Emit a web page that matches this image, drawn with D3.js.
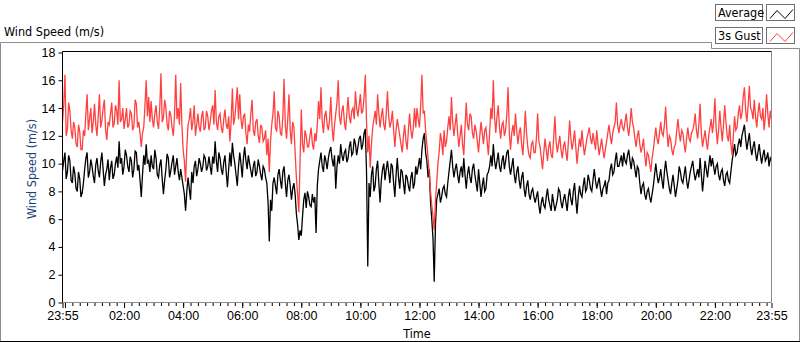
<!DOCTYPE html>
<html>
<head>
<meta charset="utf-8">
<title>wind speed</title>
<style>
  body { margin: 0; background: #fff; }
  svg { display: block; font-family: "DejaVu Sans Condensed", Tahoma, "DejaVu Sans", sans-serif; }
</style>
<script src="https://d3js.org/d3.v7.min.js"></script>
</head>
<body>
<div id="chart"></div>
<script>

// 2.5 minute samples from 23:55 to 23:55, one row per hour
var average = [
  9.5, 10.2, 10.8, 8.9, 9.4, 10.6, 10.2, 8.8, 8.6, 9.8, 9.3, 8.2, 8.0, 9.4, 8.9, 7.6, 7.9, 8.6, 9.6, 10.4, 10.8, 9.0, 9.4, 10.3,
  9.8, 9.1, 8.6, 9.9, 10.4, 9.5, 9.0, 10.1, 10.8, 9.6, 8.4, 9.2, 9.6, 10.3, 8.8, 9.7, 10.2, 8.9, 9.2, 10.0, 10.5, 9.7, 11.6, 10.0,
  10.4, 9.2, 9.8, 11.0, 10.6, 9.8, 9.4, 10.5, 10.2, 9.0, 9.6, 10.9, 10.8, 9.5, 9.9, 8.8, 7.6, 9.2, 10.6, 9.9, 11.4, 10.0, 10.2, 9.4,
  10.6, 9.8, 9.6, 11.0, 10.4, 9.2, 9.0, 9.9, 10.3, 8.9, 7.8, 8.8, 9.6, 10.7, 10.4, 9.0, 9.5, 10.1, 10.6, 9.2, 9.8, 10.4, 9.4, 8.8,
  9.6, 9.0, 8.4, 7.8, 6.6, 8.0, 9.0, 8.2, 7.4, 9.4, 8.6, 9.8, 10.2, 9.1, 9.6, 10.4, 10.0, 9.4, 9.8, 10.6, 10.4, 9.5, 9.8, 10.5,
  9.8, 9.2, 10.5, 10.0, 11.6, 10.2, 9.4, 10.8, 10.4, 9.6, 9.2, 10.1, 10.6, 9.4, 8.3, 9.6, 10.8, 9.8, 11.5, 10.6, 10.0, 9.2, 8.4, 9.8,
  10.8, 10.0, 9.0, 10.4, 11.2, 10.2, 9.6, 10.6, 10.0, 9.5, 9.0, 9.8, 10.2, 9.1, 9.4, 10.3, 9.8, 9.2, 8.8, 9.8, 9.6, 9.0, 8.6, 7.2,
  4.4, 7.4, 6.6, 8.6, 9.0, 8.4, 7.8, 9.2, 9.6, 8.8, 8.2, 9.4, 9.8, 8.6, 7.6, 8.8, 9.2, 8.4, 7.4, 8.2, 8.6, 7.8, 6.4, 5.6,
  4.5, 5.2, 4.8, 6.2, 7.4, 7.9, 6.8, 8.0, 7.6, 7.0, 6.9, 7.8, 7.2, 7.6, 5.0, 8.4, 9.6, 10.2, 10.8, 9.8, 9.4, 10.6, 10.2, 9.6,
  10.4, 10.9, 11.2, 10.3, 9.8, 10.6, 8.2, 9.8, 10.6, 10.0, 11.4, 10.6, 10.2, 10.8, 11.0, 10.1, 10.4, 11.2, 11.6, 10.6, 10.8, 11.8, 11.4, 10.6,
  11.2, 11.8, 12.0, 11.0, 11.4, 12.2, 12.5, 9.4, 2.6, 8.6, 7.6, 9.2, 9.8, 8.0, 8.4, 9.6, 10.2, 8.6, 7.2, 8.8, 9.6, 10.0, 8.8, 9.6,
  10.2, 9.4, 8.6, 10.0, 9.8, 8.6, 7.6, 9.2, 10.4, 9.0, 8.2, 9.6, 9.4, 8.6, 7.8, 9.2, 9.0, 8.4, 8.0, 9.0, 9.4, 8.2, 8.6, 9.8,
  9.2, 9.8, 10.4, 9.6, 11.0, 11.8, 12.2, 10.8, 10.2, 9.0, 9.6, 7.2, 6.0, 4.6, 1.5, 5.6, 7.4, 7.8, 8.2, 7.2, 7.6, 8.2, 8.4, 7.8,
  7.6, 8.6, 9.4, 10.2, 11.0, 9.8, 9.0, 9.6, 10.0, 9.2, 8.6, 9.4, 9.8, 9.0, 10.4, 9.2, 8.2, 9.2, 9.8, 9.0, 8.6, 9.6, 10.0, 9.2,
  8.6, 8.0, 9.6, 8.6, 7.6, 8.4, 9.0, 8.0, 8.2, 9.2, 9.4, 9.8, 10.6, 9.8, 11.4, 10.2, 9.6, 10.2, 10.8, 9.8, 9.4, 10.2, 10.6, 9.6,
  10.2, 10.8, 11.0, 9.8, 9.2, 9.8, 10.4, 9.2, 8.6, 9.4, 9.8, 8.8, 8.2, 9.0, 9.4, 8.2, 7.6, 8.4, 8.8, 7.8, 7.4, 8.0, 8.2, 7.6,
  7.2, 7.6, 8.0, 7.0, 6.4, 7.2, 7.6, 7.0, 6.8, 7.6, 8.2, 7.4, 7.0, 6.6, 7.8, 7.2, 6.6, 7.0, 7.4, 8.2, 8.0, 7.2, 6.8, 7.4,
  7.8, 7.2, 6.6, 7.6, 8.2, 7.4, 7.0, 8.0, 8.6, 7.4, 6.4, 7.6, 8.4, 7.8, 7.6, 8.4, 9.0, 8.0, 8.2, 9.2, 8.8, 8.2, 8.0, 8.8,
  9.6, 8.8, 8.2, 8.6, 9.0, 8.2, 7.6, 8.2, 8.4, 8.8, 7.8, 8.6, 8.8, 9.6, 10.0, 9.2, 9.4, 10.2, 10.8, 9.8, 9.8, 10.2, 10.6, 9.8,
  10.8, 10.2, 10.0, 10.6, 11.0, 10.2, 9.6, 10.4, 10.2, 9.6, 9.0, 9.8, 9.6, 8.6, 7.8, 8.4, 8.6, 7.8, 7.4, 8.0, 8.2, 7.6, 7.2, 7.8,
  8.4, 9.2, 10.0, 9.2, 8.6, 9.0, 9.6, 8.8, 8.2, 9.4, 10.2, 9.4, 8.8, 8.2, 7.8, 8.6, 9.2, 8.4, 7.6, 8.2, 8.8, 9.8, 9.4, 8.8,
  8.6, 9.2, 9.8, 8.8, 8.2, 8.8, 9.4, 9.8, 10.2, 9.4, 8.8, 9.2, 9.6, 9.0, 10.4, 9.2, 8.0, 9.0, 10.2, 9.6, 9.0, 9.8, 10.6, 9.8,
  10.4, 9.8, 9.2, 9.8, 10.0, 9.2, 8.8, 9.4, 9.6, 8.8, 8.4, 9.2, 9.4, 8.8, 8.6, 9.4, 10.2, 10.8, 11.4, 10.6, 10.8, 11.4, 11.8, 11.2,
  12.0, 12.4, 12.8, 11.8, 11.0, 11.6, 12.2, 11.2, 10.6, 11.2, 11.6, 10.8, 10.2, 10.8, 11.4, 10.6, 10.0, 10.6, 11.0, 10.2, 10.4, 10.8, 9.8, 10.4, 10.2
];

var gust = [
  13.0, 14.2, 16.4, 12.0, 12.5, 14.4, 13.8, 12.4, 11.8, 13.0, 12.6, 11.4, 11.2, 12.8, 12.3, 11.0, 11.0, 12.4, 12.0, 13.6, 15.0, 12.4, 13.2, 14.0,
  12.2, 13.0, 14.3, 12.8, 12.0, 13.4, 15.0, 12.6, 13.1, 14.0, 14.6, 12.4, 11.7, 13.0, 12.8, 13.6, 14.4, 12.6, 12.9, 14.2, 13.8, 12.8, 16.0, 13.0,
  13.2, 14.0, 12.5, 13.2, 14.0, 12.6, 12.8, 13.8, 13.6, 12.4, 12.7, 14.6, 14.3, 12.6, 13.0, 12.2, 11.2, 12.2, 12.6, 14.2, 16.0, 13.4, 14.8, 13.0,
  14.5, 13.2, 12.6, 13.6, 14.2, 13.0, 12.5, 14.0, 16.5, 13.0, 13.3, 14.6, 14.0, 12.8, 12.4, 13.8, 13.5, 12.6, 12.0, 13.4, 16.4, 13.2, 14.0, 12.8,
  15.8, 12.8, 11.0, 10.2, 8.7, 11.2, 12.8, 13.2, 14.0, 12.4, 13.0, 14.2, 12.0, 12.8, 13.6, 12.6, 12.3, 13.4, 13.8, 12.4, 12.6, 13.8, 13.4, 12.4,
  13.0, 13.8, 14.2, 12.8, 15.3, 13.0, 12.4, 13.4, 13.6, 12.6, 12.2, 13.2, 13.9, 12.8, 12.5, 13.4, 11.6, 13.0, 15.4, 12.8, 13.3, 14.4, 15.5, 13.2,
  15.0, 13.2, 12.5, 13.4, 13.6, 12.2, 11.4, 12.8, 12.3, 13.6, 14.6, 12.4, 12.0, 13.0, 13.2, 12.0, 11.5, 12.8, 12.6, 11.6, 11.8, 12.4, 10.6, 11.8,
  9.4, 11.6, 12.8, 13.6, 15.2, 12.6, 12.3, 13.8, 13.4, 12.2, 12.0, 13.4, 16.1, 12.8, 11.8, 13.2, 15.0, 12.4, 11.4, 13.0, 12.6, 10.8, 9.0, 7.8,
  6.5, 10.2, 13.9, 11.4, 10.8, 12.4, 12.0, 11.2, 11.2, 12.0, 12.6, 11.4, 11.0, 12.2, 11.6, 12.8, 14.5, 13.2, 15.5, 13.0, 12.2, 13.4, 13.8, 12.8,
  12.4, 13.2, 14.8, 12.6, 11.6, 12.8, 13.6, 14.4, 16.0, 13.4, 12.8, 13.8, 14.2, 13.0, 12.4, 13.6, 14.8, 13.4, 12.9, 13.8, 14.0, 13.2, 15.2, 14.0,
  13.4, 14.2, 15.0, 13.6, 13.8, 14.8, 16.4, 13.0, 10.8, 12.0, 9.7, 11.4, 12.6, 13.2, 13.8, 12.8, 15.0, 13.6, 12.6, 13.4, 14.0, 12.8, 12.4, 13.6,
  15.2, 13.4, 12.6, 13.0, 13.8, 12.4, 11.2, 12.4, 13.2, 12.6, 12.0, 11.4, 10.8, 12.0, 12.8, 11.6, 11.0, 12.4, 13.6, 12.4, 11.8, 12.6, 14.0, 12.6,
  14.0, 13.2, 12.6, 14.2, 16.4, 13.6, 13.8, 12.4, 11.4, 10.4, 9.2, 8.0, 7.0, 6.2, 5.2, 7.4, 8.6, 10.0, 10.8, 12.2, 11.6, 10.6, 12.4, 11.2,
  11.6, 12.6, 13.4, 12.4, 14.8, 13.0, 12.0, 12.8, 13.6, 12.2, 11.2, 12.0, 12.8, 11.4, 10.6, 12.6, 14.4, 12.8, 12.4, 13.6, 13.4, 12.2, 11.8, 12.8,
  12.4, 11.6, 10.8, 12.0, 13.0, 12.2, 11.4, 12.4, 12.6, 11.6, 10.6, 12.2, 14.0, 13.2, 16.0, 13.4, 12.2, 13.4, 14.2, 12.6, 11.8, 12.8, 13.0, 12.0,
  12.4, 13.6, 15.5, 12.2, 11.0, 12.2, 12.8, 12.0, 13.6, 12.4, 11.4, 12.2, 12.6, 11.4, 10.6, 12.0, 13.8, 12.2, 11.2, 10.6, 10.4, 11.4, 11.6, 10.8,
  10.8, 11.8, 13.6, 11.6, 11.2, 10.4, 9.6, 10.8, 11.8, 11.0, 10.2, 11.2, 11.6, 10.6, 10.4, 11.8, 13.4, 11.6, 10.8, 11.4, 12.0, 11.0, 10.4, 11.2,
  11.6, 10.8, 10.2, 11.6, 13.1, 11.8, 11.0, 11.6, 12.4, 11.2, 10.0, 11.0, 11.8, 11.2, 12.4, 11.4, 10.6, 11.2, 11.8, 12.2, 12.6, 11.8, 11.4, 12.2,
  11.6, 11.0, 12.4, 11.4, 10.6, 11.2, 11.8, 11.0, 10.4, 11.0, 11.6, 12.2, 12.8, 12.0, 11.4, 12.2, 12.6, 13.0, 14.4, 12.8, 12.2, 12.8, 13.2, 12.6,
  12.4, 13.0, 13.6, 12.6, 12.0, 12.8, 14.0, 13.0, 12.6, 11.8, 11.2, 12.0, 12.4, 11.4, 10.8, 11.2, 11.8, 10.6, 9.8, 10.8, 10.6, 10.0, 9.4, 10.4,
  11.0, 11.8, 12.6, 11.8, 11.4, 12.2, 13.0, 12.2, 12.0, 12.8, 14.1, 12.4, 11.2, 12.0, 11.8, 11.0, 10.6, 11.2, 11.4, 12.4, 13.2, 12.2, 11.6, 12.4,
  12.2, 11.4, 10.8, 11.8, 12.6, 11.8, 11.6, 12.2, 12.4, 12.8, 13.6, 12.4, 11.8, 12.8, 14.3, 12.2, 11.2, 11.8, 12.4, 11.6, 11.0, 12.0, 12.6, 13.2,
  12.2, 13.0, 14.7, 12.6, 11.4, 12.4, 13.8, 12.6, 11.6, 12.8, 14.2, 13.0, 12.0, 11.6, 12.8, 11.4, 10.6, 12.0, 13.4, 12.4, 12.6, 13.6, 14.2, 13.2,
  13.6, 14.8, 15.5, 13.8, 13.0, 14.2, 15.6, 14.0, 13.8, 13.2, 14.6, 13.4, 12.6, 13.6, 14.4, 13.4, 13.2, 14.0, 12.4, 13.4, 15.0, 13.6, 12.6, 13.8, 13.2
];

var seriesNames = ["Average", "3s Gust"];
var seriesColors = ["#000000", "#ff4040"];
var yTicks = [0, 2, 4, 6, 8, 10, 12, 14, 16, 18];
var xTickLabels = ["23:55", "", "02:00", "04:00", "06:00", "08:00", "10:00",
                   "12:00", "14:00", "16:00", "18:00", "20:00", "22:00", "23:55"];

var W = 800, H = 342;
var plot = {left: 62.5, right: 771.5, top: 51.5, bottom: 302.5};

var t0 = new Date(2021, 0, 1, 23, 55);
var t1 = d3.timeHour.offset(t0, 24);

var x = d3.scaleTime().domain([t0, t1]).range([plot.left, plot.right]);
var y = d3.scaleLinear().domain([0, 18]).range([plot.bottom, 52.5]);

// spread the samples evenly over the 24 hours
function toRows(values) {
  var step = (t1 - t0) / (values.length - 1);
  return values.map(function(v, i) {
    return {date: new Date(+t0 + i * step), value: v};
  });
}

var svg = d3.select("#chart").append("svg")
    .attr("width", W)
    .attr("height", H);

// outer frame
var frame = svg.append("g").attr("fill", "none").attr("stroke-width", 1);
frame.append("path").attr("stroke", "#8c8c8c")
    .attr("d", "M0.5,341 V42.5 H711.5 V48.5 H799.5 V341");
frame.append("path").attr("stroke", "#000")
    .attr("d", "M0,341.5 H800");

// title
svg.append("text")
    .attr("x", 4).attr("y", 36)
    .attr("font-size", 12.5)
    .attr("fill", "#000")
    .text("Wind Speed (m/s)");

// plot area
svg.append("rect")
    .attr("x", plot.left).attr("y", plot.top)
    .attr("width", plot.right - plot.left).attr("height", plot.bottom - plot.top)
    .attr("fill", "#fff");

svg.append("clipPath").attr("id", "clip")
  .append("rect")
    .attr("x", plot.left).attr("y", plot.top)
    .attr("width", plot.right - plot.left).attr("height", plot.bottom - plot.top);

var line = d3.line()
    .x(function(d) { return x(d.date); })
    .y(function(d) { return y(d.value); });

var lines = svg.append("g").attr("clip-path", "url(#clip)");
[average, gust].forEach(function(values, i) {
  lines.append("path")
      .datum(toRows(values))
      .attr("fill", "none")
      .attr("stroke", seriesColors[i])
      .attr("stroke-width", 1.3)
      .attr("stroke-linejoin", "miter")
      .attr("d", line);
});

// plot border: dark top/left, grey bottom/right
svg.append("path").attr("fill", "none").attr("stroke", "#8c8c8c")
    .attr("d", "M" + plot.left + "," + plot.bottom + " H" + plot.right + " V" + plot.top);
svg.append("path").attr("fill", "none").attr("stroke", "#000")
    .attr("d", "M" + plot.left + "," + plot.bottom + " V" + plot.top + " H" + plot.right);

// Y axis
var yAxis = svg.append("g")
    .attr("transform", "translate(" + plot.left + ",0)")
    .call(d3.axisLeft(y).tickValues(yTicks).tickSize(4).tickPadding(3));
yAxis.select(".domain").remove();
yAxis.selectAll("text").attr("font-size", 12.5).attr("fill", "#000").attr("font-family", null);

svg.append("text")
    .attr("transform", "translate(36," + ((plot.top + plot.bottom) / 2 - 8) + ") rotate(-90)")
    .attr("text-anchor", "middle")
    .attr("font-size", 12.5)
    .attr("fill", "#1e3f78")
    .text("Wind Speed (m/s)");

// X axis: major ticks at labels, minor every 15 min
var majorTicks = [t0].concat(d3.timeHour.every(2).range(d3.timeMinute.offset(t0, 1), t1), [t1]);
var minorTicks = d3.timeMinute.every(15).range(t0, t1);

var xMinor = svg.append("g")
    .attr("transform", "translate(0," + (plot.bottom + 0.5) + ")")
    .call(d3.axisBottom(x).tickValues(minorTicks).tickSize(3).tickFormat(""));
xMinor.select(".domain").remove();

var xAxis = svg.append("g")
    .attr("transform", "translate(0," + (plot.bottom + 0.5) + ")")
    .call(d3.axisBottom(x).tickValues(majorTicks).tickSize(5).tickPadding(3)
      .tickFormat(function(d, i) { return xTickLabels[i]; }));
xAxis.select(".domain").remove();
xAxis.selectAll("text").attr("font-size", 12.5).attr("fill", "#000").attr("font-family", null);

svg.append("text")
    .attr("x", 417).attr("y", 338)
    .attr("text-anchor", "middle")
    .attr("font-size", 12.5)
    .attr("fill", "#000")
    .text("Time");

// legend
var legend = svg.append("g");
seriesNames.forEach(function(name, i) {
  var top = 4.5 + i * 23;
  var g = legend.append("g").attr("transform", "translate(0," + top + ")");
  g.append("rect")
      .attr("x", 715.5).attr("y", 0).attr("width", 47).attr("height", 16)
      .attr("fill", "#fff").attr("stroke", "#6e6e6e");
  g.append("text")
      .attr("x", 718).attr("y", 12.5)
      .attr("font-size", 12.5)
      .attr("fill", "#000")
      .text(name);
  g.append("rect")
      .attr("x", 766.5).attr("y", 0).attr("width", 28).attr("height", 16)
      .attr("fill", "#fff").attr("stroke", "#6e6e6e");
  g.append("path")
      .attr("fill", "none")
      .attr("stroke", seriesColors[i])
      .attr("d", "M770,14 L777,6 L785,14 L793,5");
});

</script>
</body>
</html>
